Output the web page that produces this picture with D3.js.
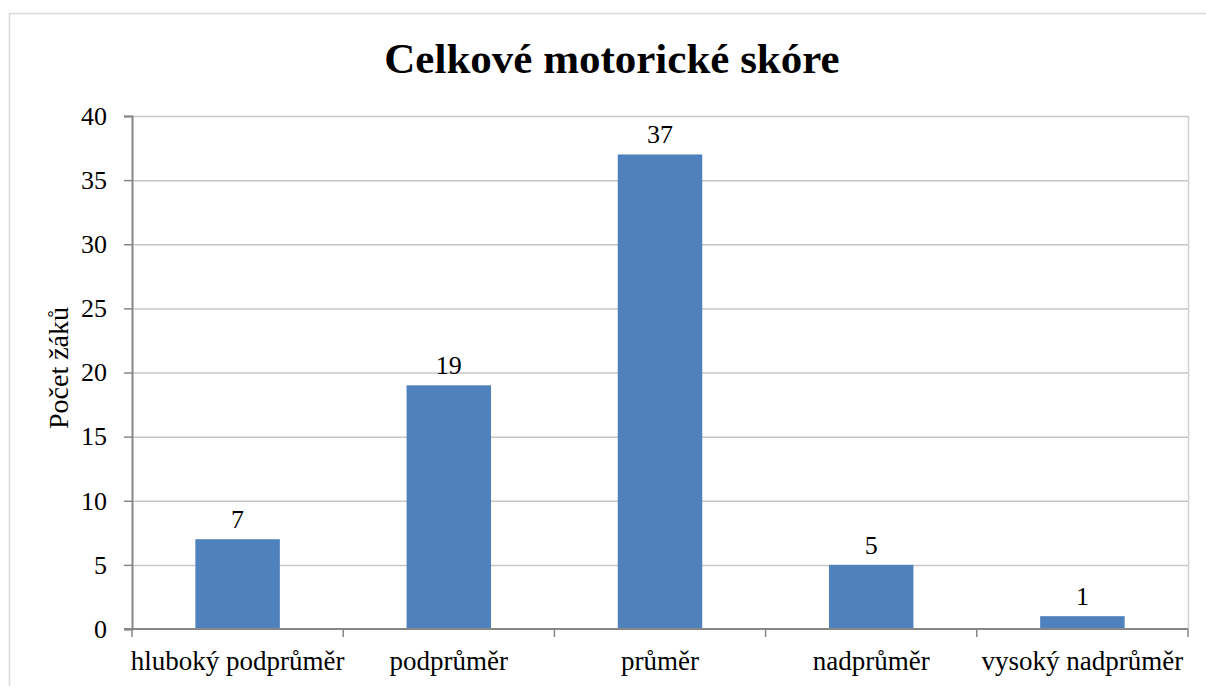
<!DOCTYPE html>
<html>
<head>
<meta charset="utf-8">
<script src="https://cdn.jsdelivr.net/npm/d3@7"></script>
<style>
  body { margin: 0; background: #fff; }
  text { font-family: "Liberation Serif", "Times New Roman", serif; fill: #000; }
</style>
</head>
<body>
<div id="chart"></div>
<script>
// Chart data
const categories = ["hluboký podprůměr", "podprůměr", "průměr", "nadprůměr", "vysoký nadprůměr"];
const counts = [7, 19, 37, 5, 1];
const yTicks = [0, 5, 10, 15, 20, 25, 30, 35, 40];

const width = 1206;
const height = 686;
const margin = { top: 116, right: 18, bottom: 57, left: 132 };

const svg = d3.select("#chart").append("svg")
    .attr("width", width)
    .attr("height", height);

// Outer chart border
svg.append("rect")
    .attr("x", 9.5).attr("y", 13.5)
    .attr("width", width).attr("height", height)
    .attr("fill", "none")
    .attr("stroke", "#d9d9d9")
    .attr("stroke-width", 1.5);

const x = d3.scaleBand()
    .domain(categories)
    .range([margin.left, width - margin.right])
    .paddingInner(0.6)
    .paddingOuter(0.3);

const y = d3.scaleLinear()
    .domain([0, 40])
    .range([height - margin.bottom, margin.top]);

// Gridlines
svg.append("g")
    .selectAll("line")
    .data(yTicks.filter(d => d > 0))
    .enter().append("line")
    .attr("x1", margin.left)
    .attr("x2", width - margin.right)
    .attr("y1", d => y(d) + 0.5)
    .attr("y2", d => y(d) + 0.5)
    .attr("stroke", "#c6c6c6")
    .attr("stroke-width", 1.5);

// Right border of plot area
svg.append("line")
    .attr("x1", width - margin.right + 0.5).attr("x2", width - margin.right + 0.5)
    .attr("y1", margin.top).attr("y2", height - margin.bottom)
    .attr("stroke", "#d0d0d0")
    .attr("stroke-width", 1.5);

// Bars
svg.append("g")
    .selectAll("rect")
    .data(categories)
    .enter().append("rect")
    .attr("x", d => x(d))
    .attr("y", (d, i) => y(counts[i]))
    .attr("width", x.bandwidth())
    .attr("height", (d, i) => y(0) - y(counts[i]))
    .attr("fill", "#4f81bd");

// Value labels
svg.append("g")
    .selectAll("text")
    .data(categories)
    .enter().append("text")
    .attr("x", d => x(d) + x.bandwidth() / 2)
    .attr("y", (d, i) => y(counts[i]) - 11)
    .attr("text-anchor", "middle")
    .style("font-size", "26px")
    .text((d, i) => counts[i]);

// Y axis
const yAxis = svg.append("g")
    .attr("transform", `translate(${margin.left},0)`)
    .call(d3.axisLeft(y).tickValues(yTicks).tickSize(8).tickPadding(17));
yAxis.selectAll("line").attr("stroke", "#868686").attr("stroke-width", 1.5);
yAxis.select(".domain").attr("stroke", "#868686").attr("stroke-width", 2);
yAxis.selectAll("text")
    .style("font-size", "26px")
    .attr("fill", "#000");

// X axis: ticks at band boundaries
const x0 = margin.left, x1 = width - margin.right;
const step = (x1 - x0) / categories.length;
const boundaries = d3.range(categories.length + 1).map(i => x0 + i * step);
const xg = svg.append("g");
xg.append("line")
    .attr("x1", x0 - 8).attr("x2", x1)
    .attr("y1", y(0)).attr("y2", y(0))
    .attr("stroke", "#868686").attr("stroke-width", 2);
xg.selectAll(".tick")
    .data(boundaries)
    .enter().append("line")
    .attr("x1", d => d).attr("x2", d => d)
    .attr("y1", y(0)).attr("y2", y(0) + 8)
    .attr("stroke", "#868686").attr("stroke-width", 1.5);
xg.selectAll("text")
    .data(categories)
    .enter().append("text")
    .attr("x", d => x(d) + x.bandwidth() / 2)
    .attr("y", 670)
    .attr("text-anchor", "middle")
    .style("font-size", "27px")
    .text(d => d);

// Y axis title
svg.append("text")
    .attr("transform", `translate(68,368) rotate(-90)`)
    .attr("text-anchor", "middle")
    .style("font-size", "28px")
    .text("Počet žáků");

// Chart title
svg.append("text")
    .attr("x", 612)
    .attr("y", 73)
    .attr("text-anchor", "middle")
    .style("font-size", "43px")
    .attr("font-weight", "bold")
    .text("Celkové motorické skóre");
</script>
</body>
</html>
